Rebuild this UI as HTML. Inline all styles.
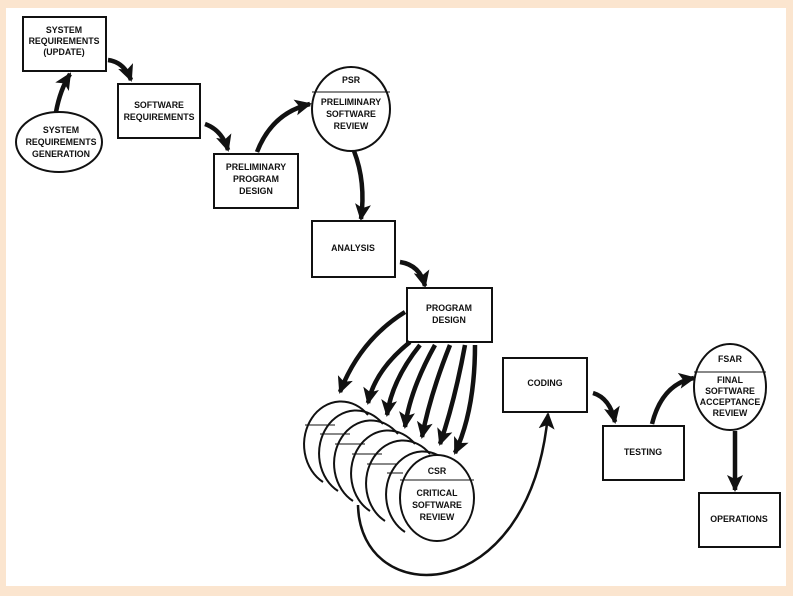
<!DOCTYPE html>
<html><head><meta charset="utf-8"><style>
html,body{margin:0;padding:0;background:#fbe5cf;}
svg{display:block}
text{font-family:"Liberation Sans",sans-serif;font-weight:bold;font-size:8.8px;fill:#111;text-anchor:middle}
</style></head><body>
<svg width="793" height="596" viewBox="0 0 793 596" xmlns="http://www.w3.org/2000/svg">
<defs>
<marker id="ah" markerUnits="userSpaceOnUse" markerWidth="20" markerHeight="20" refX="15" refY="10" orient="auto">
<path d="M0,2 L17,10 L0,18 L4,10 Z" fill="#111"/>
</marker>
</defs>
<rect x="6" y="8" width="780" height="578" fill="#fff"/>
<g fill="#fff" stroke="#111" stroke-width="2">
<rect x="23" y="17" width="83" height="54"/>
<ellipse cx="59" cy="142" rx="43" ry="30"/>
<rect x="118" y="84" width="82" height="54"/>
<rect x="214" y="154" width="84" height="54"/>
<ellipse cx="351" cy="109" rx="39" ry="42"/>
<rect x="312" y="221" width="83" height="56"/>
<rect x="407" y="288" width="85" height="54"/>
<rect x="503" y="358" width="84" height="54"/>
<rect x="603" y="426" width="81" height="54"/>
<ellipse cx="730" cy="387" rx="36" ry="43"/>
<rect x="699" y="493" width="81" height="54"/>
</g>
<g stroke="#111" stroke-width="1">
<line x1="312" y1="92" x2="390" y2="92"/>
<line x1="694" y1="372" x2="766" y2="372"/>
</g>
<g fill="none" stroke="#111" stroke-width="2">
<path d="M323,482 A37,43 0 1,1 368,415"/>
<path d="M338,491 A37,43 0 1,1 383,424"/>
<path d="M353,501 A37,43 0 1,1 398,434"/>
<path d="M370,511 A37,43 0 1,1 415,444"/>
<path d="M385,521 A37,43 0 1,1 430,454"/>
<path d="M405,532 A37,43 0 1,1 450,465"/>
</g>
<g stroke="#111" stroke-width="1">
<line x1="305" y1="425" x2="335" y2="425"/>
<line x1="320" y1="434" x2="350" y2="434"/>
<line x1="335" y1="444" x2="365" y2="444"/>
<line x1="352" y1="454" x2="382" y2="454"/>
<line x1="367" y1="464" x2="397" y2="464"/>
<line x1="387" y1="473" x2="403" y2="473"/>
</g>
<ellipse cx="437" cy="498" rx="37" ry="43" fill="#fff" stroke="#111" stroke-width="2"/>
<line x1="400" y1="480" x2="474" y2="480" stroke="#111" stroke-width="1"/>
<g fill="none" stroke="#111" stroke-width="4.5" marker-end="url(#ah)">
<path d="M56,112 Q60,90 70,74"/>
<path d="M108,60 Q124,62 131,80"/>
<path d="M205,124 Q222,130 228,150"/>
<path d="M257,152 Q272,113 310,104"/>
<path d="M354,151 Q366,182 361,219"/>
<path d="M400,262 Q420,265 425,286"/>
<path d="M593,393 Q610,398 615,422"/>
<path d="M652,424 Q662,384 694,378"/>
<path d="M735,431 L735,490"/>
<path d="M405,312 Q360,340 340,392"/>
<path d="M410,342 Q375,370 368,403"/>
<path d="M420,345 Q392,380 387,415"/>
<path d="M435,345 Q410,390 405,427"/>
<path d="M450,345 Q430,395 422,437"/>
<path d="M465,345 Q455,400 440,444"/>
<path d="M475,345 Q475,410 455,453"/>
<path d="M358,505 C360,610 530,610 548,414" stroke-width="2.5"/>
</g>
<text x="64" y="33">SYSTEM</text>
<text x="64" y="44">REQUIREMENTS</text>
<text x="64" y="55">(UPDATE)</text>
<text x="61" y="133">SYSTEM</text>
<text x="61" y="145">REQUIREMENTS</text>
<text x="61" y="157">GENERATION</text>
<text x="159" y="108">SOFTWARE</text>
<text x="159" y="120">REQUIREMENTS</text>
<text x="256" y="170">PRELIMINARY</text>
<text x="256" y="182">PROGRAM</text>
<text x="256" y="194">DESIGN</text>
<text x="351" y="83">PSR</text>
<text x="351" y="105">PRELIMINARY</text>
<text x="351" y="117">SOFTWARE</text>
<text x="351" y="129">REVIEW</text>
<text x="353" y="251">ANALYSIS</text>
<text x="449" y="311">PROGRAM</text>
<text x="449" y="323">DESIGN</text>
<text x="545" y="386">CODING</text>
<text x="643" y="455">TESTING</text>
<text x="730" y="362">FSAR</text>
<text x="730" y="383">FINAL</text>
<text x="730" y="394">SOFTWARE</text>
<text x="730" y="405">ACCEPTANCE</text>
<text x="730" y="416">REVIEW</text>
<text x="739" y="522">OPERATIONS</text>
<text x="437" y="474">CSR</text>
<text x="437" y="496">CRITICAL</text>
<text x="437" y="508">SOFTWARE</text>
<text x="437" y="520">REVIEW</text>
</svg>
</body></html>
